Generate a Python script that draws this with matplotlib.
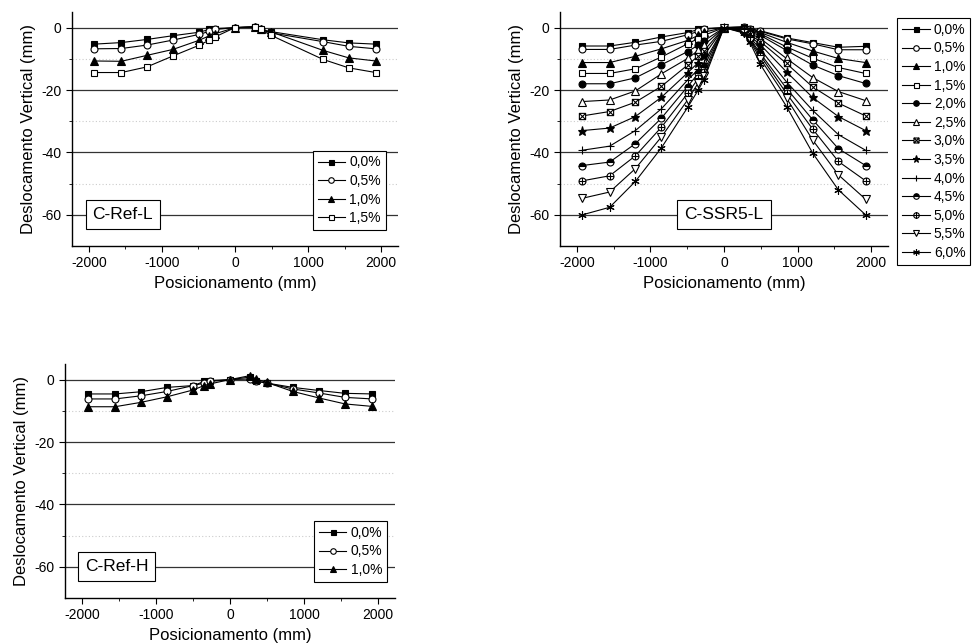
import numpy as np
import matplotlib
matplotlib.use('Agg')
import matplotlib.pyplot as plt
from matplotlib.path import Path
from matplotlib.ticker import MultipleLocator

plt.rcParams['font.family'] = ['Liberation Sans', 'DejaVu Sans']
plt.rcParams['axes.unicode_minus'] = False

# posicoes dos sensores (mm)
x_ref_l = [-1925, -1555, -1205, -850, -495, -350, -275, 0, 275, 350, 495, 1205, 1555, 1925]
x_full = [-1925, -1555, -1205, -850, -495, -350, -275, 0, 275, 350, 495, 850, 1205, 1555, 1925]

# C-Ref-L
ref_l_labels = ['0,0%', '0,5%', '1,0%', '1,5%']
ref_l_00 = [-5.3, -4.8, -3.8, -2.6, -1.5, -0.6, -0.3, 0, 0.3, -0.7, -1.3, -3.9, -4.9, -5.3]
ref_l_05 = [-6.8, -6.7, -5.6, -4.0, -2.2, -1.2, -0.6, 0, 0.1, -0.6, -1.7, -4.5, -6.0, -6.8]
ref_l_10 = [-10.7, -10.8, -8.9, -7.0, -4.1, -2.6, -2.0, 0, 0.2, -0.6, -1.4, -7.3, -9.7, -10.7]
ref_l_15 = [-14.4, -14.4, -12.6, -9.1, -5.7, -4.0, -3.0, 0, 0.3, -0.6, -2.5, -10.2, -12.9, -14.4]

# C-SSR5-L
ssr_labels = ['0,0%', '0,5%', '1,0%', '1,5%', '2,0%', '2,5%', '3,0%',
              '3,5%', '4,0%', '4,5%', '5,0%', '5,5%', '6,0%']
ssr_00 = [-5.9, -5.9, -4.7, -3.0, -1.6, -0.6, -0.3, 0, 0.3, -0.3, -1.0, -3.3, -4.8, -6.3, -6.0]
ssr_05 = [-7.0, -7.0, -5.6, -4.4, -2.3, -1.2, -0.5, 0, 0.2, -0.5, -1.2, -3.6, -5.2, -7.1, -7.1]
ssr_10 = [-11.2, -11.2, -9.2, -6.8, -4.1, -2.5, -1.5, 0, 0.0, -0.8, -1.6, -4.7, -7.5, -9.9, -11.2]
ssr_15 = [-14.7, -14.7, -13.2, -9.4, -5.2, -3.5, -2.5, 0, -0.2, -1.2, -2.0, -6.2, -9.8, -12.8, -14.7]
ssr_20 = [-18.0, -18.0, -16.1, -11.9, -7.7, -5.6, -4.3, 0, -0.3, -1.5, -2.5, -7.3, -12.0, -15.4, -17.9]
ssr_25 = [-23.7, -23.2, -20.3, -14.8, -9.9, -7.3, -5.7, 0, -0.4, -1.8, -3.5, -9.9, -16.0, -20.5, -23.4]
ssr_30 = [-28.3, -26.9, -23.9, -18.8, -12.0, -9.1, -7.5, 0, -0.6, -2.2, -4.5, -11.5, -19.0, -24.2, -28.3]
ssr_35 = [-33.0, -32.2, -28.5, -22.3, -14.5, -11.2, -9.0, 0, -0.8, -2.7, -5.5, -14.2, -22.4, -28.5, -33.0]
ssr_40 = [-39.3, -38.0, -33.0, -26.0, -16.8, -13.4, -11.3, 0, -1.0, -3.0, -7.0, -17.4, -26.5, -34.3, -39.3]
ssr_45 = [-44.2, -43.1, -37.2, -29.0, -18.9, -14.7, -12.6, 0, -1.2, -3.4, -8.3, -19.5, -29.5, -38.8, -44.2]
ssr_50 = [-49.1, -47.5, -41.1, -31.9, -21.1, -16.3, -14.2, 0, -1.4, -3.8, -9.0, -21.1, -32.5, -42.9, -49.1]
ssr_55 = [-54.7, -52.7, -45.2, -35.0, -23.2, -17.7, -15.6, 0, -1.6, -4.2, -10.0, -22.6, -36.0, -47.2, -55.0]
ssr_60 = [-60.0, -57.6, -49.3, -38.5, -25.6, -20.0, -16.8, 0, -1.8, -4.6, -11.8, -25.3, -40.2, -52.0, -60.0]

# C-Ref-H
ref_h_labels = ['0,0%', '0,5%', '1,0%']
ref_h_00 = [-4.6, -4.6, -3.9, -2.5, -1.9, -0.6, -0.3, 0, 0.8, -0.5, -1.1, -2.5, -3.5, -4.4, -4.6]
ref_h_05 = [-6.2, -6.2, -5.2, -3.8, -1.9, -1.1, -0.6, 0, 0.2, -0.5, -1.1, -3.0, -4.3, -5.7, -6.2]
ref_h_10 = [-8.7, -8.7, -7.3, -5.5, -3.3, -1.9, -1.4, 0, 1.3, 0.2, -0.9, -3.8, -5.9, -7.8, -8.6]

# marcadores especiais
M, L, C = Path.MOVETO, Path.LINETO, Path.CLOSEPOLY
box_x = Path([(-1, -1), (1, -1), (1, 1), (-1, 1), (-1, -1),
              (-1, -1), (1, 1), (-1, 1), (1, -1)],
             [M, L, L, L, C, M, L, M, L])
circ = Path.unit_circle()
circ_plus = Path.make_compound_path(circ,
                                    Path([(-1, 0), (1, 0)], [M, L]),
                                    Path([(0, -1), (0, 1)], [M, L]))

# estilos: (marker, face, size, extra)
styles = [
    ('s', 'k', 4.5, {}),
    ('o', 'w', 5, {}),
    ('^', 'k', 5.5, {}),
    ('s', 'w', 4.5, {}),
    ('o', 'k', 5, {}),
    ('^', 'w', 5.5, {}),
    (box_x, 'w', 4.5, {}),
    ('*', 'k', 6.5, {}),
    ('+', 'k', 5.5, {}),
    ('o', 'k', 5, {'fillstyle': 'top', 'markerfacecoloralt': 'w'}),
    (circ_plus, 'w', 5, {}),
    ('v', 'w', 5.5, {}),
    ((6, 2, 0), 'k', 6, {}),
]


def style_axes(ax):
    ax.set_xlim(-2230, 2230)
    ax.set_ylim(-70, 5)
    ax.xaxis.set_major_locator(MultipleLocator(1000))
    ax.xaxis.set_minor_locator(MultipleLocator(500))
    ax.set_yticks([0, -20, -40, -60])
    ax.set_yticks([-10, -30, -50], minor=True)
    ax.grid(True, which='major', axis='y', color='#333333', lw=0.9)
    ax.grid(True, which='minor', axis='y', color='#cccccc', lw=0.8, ls=(0, (1, 2)))
    ax.set_axisbelow(True)
    for s in ['top', 'right']:
        ax.spines[s].set_visible(False)
    ax.spines['left'].set_linewidth(1.0)
    ax.spines['bottom'].set_linewidth(1.0)
    ax.tick_params(axis='both', which='major', direction='out', length=4, labelsize=10)
    ax.tick_params(axis='both', which='minor', direction='out', length=2.5)
    ax.set_xlabel('Posicionamento (mm)', fontsize=12, labelpad=4)
    ax.set_ylabel('Deslocamento Vertical (mm)', fontsize=12, labelpad=4)


def draw(ax, xs, series, labels):
    for ys, lab, (mk, fc, ms, extra) in zip(series, labels, styles):
        ax.plot(xs, ys, '-', color='k', lw=0.8, marker=mk, markersize=ms,
                markerfacecolor=fc, markeredgecolor='k', markeredgewidth=0.8,
                label=lab, **extra)


W, H = 975, 644
fig = plt.figure(figsize=(W / 100, H / 100), dpi=100)

def px_axes(x0, y0, x1, y1):
    return fig.add_axes([x0 / W, 1 - y1 / H, (x1 - x0) / W, (y1 - y0) / H])

leg_kw = dict(fontsize=10, frameon=True, fancybox=False, edgecolor='k',
              framealpha=1, handlelength=2.0, handletextpad=0.3,
              labelspacing=0.33, borderpad=0.35, markerscale=0.8,
              borderaxespad=0)
box_kw = dict(boxstyle='square,pad=0.4', fc='w', ec='k', lw=0.8)

# grafico C-Ref-L
ax1 = px_axes(72, 12, 398, 246)
style_axes(ax1)
draw(ax1, x_ref_l, [ref_l_00, ref_l_05, ref_l_10, ref_l_15], ref_l_labels)
lg = ax1.legend(loc='lower right', bbox_to_anchor=(0.963, 0.068), **leg_kw)
lg.get_frame().set_linewidth(0.8)
ax1.text(-1535, -60, 'C-Ref-L', fontsize=12.5, ha='center', va='center', bbox=box_kw)

# grafico C-SSR5-L
ax2 = px_axes(560, 12, 888, 246)
style_axes(ax2)
draw(ax2, x_full, [ssr_00, ssr_05, ssr_10, ssr_15, ssr_20, ssr_25, ssr_30,
                   ssr_35, ssr_40, ssr_45, ssr_50, ssr_55, ssr_60], ssr_labels)
lg = ax2.legend(loc='upper left', bbox_to_anchor=(897 / W, 1 - 18 / H),
                bbox_transform=fig.transFigure, **leg_kw)
lg.get_frame().set_linewidth(0.8)
ax2.text(0, -60, 'C-SSR5-L', fontsize=12.5, ha='center', va='center', bbox=box_kw)

# grafico C-Ref-H
ax3 = px_axes(65, 364, 395, 598)
style_axes(ax3)
draw(ax3, x_full, [ref_h_00, ref_h_05, ref_h_10], ref_h_labels)
lg = ax3.legend(loc='upper right', bbox_to_anchor=(0.976, 0.329), **leg_kw)
lg.get_frame().set_linewidth(0.8)
ax3.text(-1535, -60, 'C-Ref-H', fontsize=12.5, ha='center', va='center', bbox=box_kw)

fig.savefig('out.png', dpi=100)
